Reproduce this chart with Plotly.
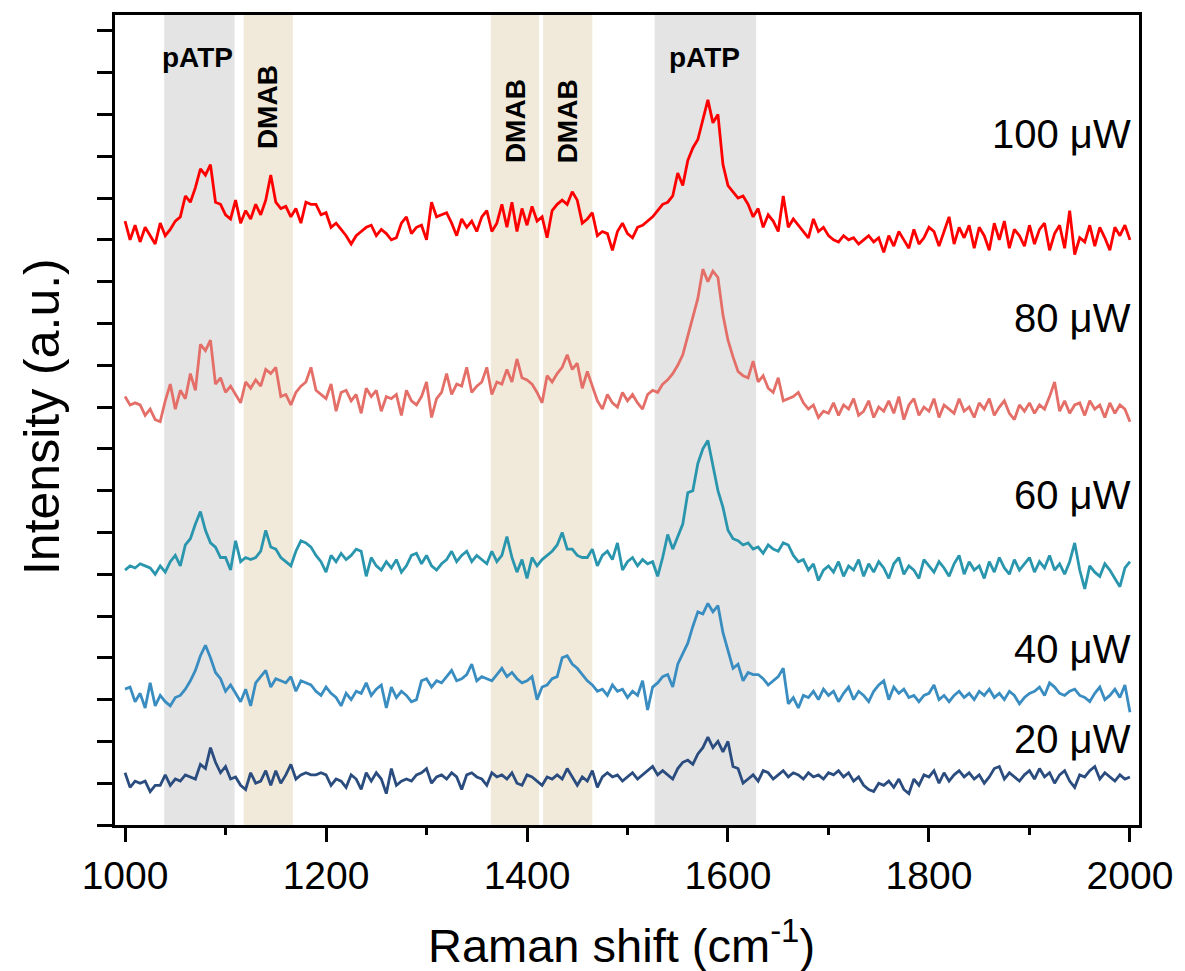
import numpy as np
import plotly.graph_objects as go

# Raman shift grid (cm-1), 5 cm-1 steps from 1000 to 2000
raman_shift = list(range(1000, 2001, 5))

int_100uW = [
    14.45, 14.0, 14.35, 13.95, 14.3, 14.1, 13.9, 14.4, 14.1, 14.25, 14.45, 14.55, 15.05, 14.9, 15.25, 15.7, 15.55, 15.8, 14.9, 14.85,
    14.6, 14.5, 14.95, 14.4, 14.7, 14.5, 14.85, 14.6, 14.95, 15.55, 14.9, 14.75, 14.8, 14.55, 14.75, 14.4, 14.9, 14.85, 14.85, 14.6,
    14.65, 14.3, 14.4, 14.25, 14.1, 13.9, 14.1, 14.2, 14.3, 14.35, 14.1, 14.25, 14.15, 14.0, 14.05, 14.4, 14.55, 14.15, 14.3, 14.35,
    14.0, 14.9, 14.55, 14.6, 14.65, 14.4, 14.1, 14.5, 14.3, 14.45, 14.2, 14.55, 14.7, 14.2, 14.4, 14.85, 14.3, 14.9, 14.2, 14.75,
    14.35, 14.8, 14.45, 14.55, 14.05, 14.7, 14.85, 14.95, 14.85, 15.15, 14.95, 14.4, 14.5, 14.65, 14.1, 14.2, 14.15, 13.75, 14.2, 14.4,
    14.15, 14.05, 14.3, 14.35, 14.45, 14.55, 14.7, 14.85, 14.9, 15.05, 15.6, 15.3, 15.9, 16.2, 16.4, 16.85, 17.35, 16.8, 17.0, 15.8,
    15.3, 15.15, 15.0, 15.05, 14.85, 14.55, 14.75, 14.3, 14.6, 14.45, 14.2, 15.05, 14.3, 14.5, 14.35, 14.2, 14.05, 14.5, 14.2, 14.3,
    14.1, 14.0, 13.95, 14.1, 14.0, 14.05, 13.9, 14.0, 14.1, 13.95, 14.05, 13.7, 14.1, 13.85, 14.2, 14.0, 13.8, 14.25, 13.9, 14.05,
    14.3, 14.2, 13.85, 14.2, 14.55, 13.9, 14.3, 14.05, 14.35, 13.8, 14.3, 14.1, 13.75, 14.4, 14.0, 14.45, 13.8, 14.25, 14.1, 13.85,
    14.35, 13.9, 14.25, 14.4, 13.75, 14.15, 14.35, 13.8, 14.7, 13.65, 14.05, 13.95, 14.35, 13.85, 14.3, 14.05, 13.75, 14.3, 14.1, 14.35,
    14.0,
]

int_80uW = [
    10.25, 10.05, 10.1, 10.05, 9.8, 9.95, 9.7, 9.65, 10.15, 10.55, 9.95, 10.4, 10.2, 10.8, 10.4, 11.5, 11.35, 11.6, 10.55, 10.7,
    10.35, 10.5, 10.3, 10.1, 10.6, 10.45, 10.65, 10.5, 10.9, 10.8, 10.95, 10.25, 10.3, 10.05, 10.35, 10.5, 10.6, 10.95, 10.4, 10.3,
    10.2, 10.55, 9.9, 10.35, 10.4, 10.15, 10.3, 9.85, 10.45, 10.25, 10.4, 9.9, 10.25, 10.2, 10.3, 9.8, 10.4, 10.15, 10.05, 10.25,
    10.6, 9.75, 10.2, 10.35, 10.8, 10.3, 10.55, 10.5, 10.95, 10.35, 10.5, 10.6, 10.95, 10.3, 10.6, 10.55, 10.9, 10.6, 11.15, 10.7,
    10.65, 10.55, 10.35, 10.1, 10.75, 10.6, 10.8, 10.95, 11.25, 10.9, 11.05, 10.45, 10.85, 10.5, 10.15, 9.95, 10.3, 10.1, 10.0, 10.35,
    10.15, 10.3, 10.1, 9.95, 10.3, 10.4, 10.35, 10.55, 10.65, 10.8, 11.0, 11.25, 11.7, 12.15, 12.6, 13.3, 13.0, 13.25, 13.1, 12.2,
    11.6, 11.2, 10.85, 10.75, 10.7, 11.1, 10.6, 10.75, 10.45, 10.35, 10.7, 10.15, 10.2, 10.25, 10.35, 10.1, 9.95, 10.05, 9.75, 9.9,
    9.85, 10.1, 9.8, 10.05, 9.95, 10.2, 9.8, 9.9, 10.15, 9.75, 10.0, 9.9, 10.15, 9.85, 10.25, 9.7, 10.05, 10.2, 9.8, 10.0,
    9.9, 10.2, 9.75, 10.05, 9.95, 9.85, 10.2, 9.9, 10.0, 9.75, 10.1, 9.95, 10.2, 9.8, 10.0, 10.15, 9.85, 9.7, 10.05, 9.9,
    10.1, 9.85, 10.05, 9.95, 10.25, 10.6, 9.9, 10.15, 9.85, 10.05, 10.1, 9.8, 10.15, 9.95, 10.05, 9.75, 10.1, 9.85, 10.05, 9.95,
    9.65,
]

int_60uW = [
    6.1, 6.2, 6.15, 6.25, 6.2, 6.15, 6.0, 6.2, 6.05, 6.3, 6.45, 6.2, 6.7, 6.85, 7.2, 7.5, 7.05, 6.75, 6.65, 6.4,
    6.4, 6.1, 6.8, 6.3, 6.4, 6.35, 6.4, 6.55, 7.05, 6.65, 6.6, 6.4, 6.3, 6.2, 6.55, 6.8, 6.75, 6.65, 6.45, 6.3,
    6.05, 6.45, 6.3, 6.5, 6.35, 6.45, 6.6, 6.55, 5.95, 6.4, 6.2, 6.1, 6.3, 6.15, 6.35, 6.05, 6.2, 6.45, 6.5, 6.25,
    6.45, 6.2, 6.1, 6.25, 6.35, 6.55, 6.3, 6.45, 6.55, 6.3, 6.45, 6.35, 6.25, 6.55, 6.3, 6.45, 6.9, 6.4, 6.05, 6.35,
    5.9, 6.4, 6.2, 6.35, 6.45, 6.55, 6.7, 7.0, 6.6, 6.6, 6.45, 6.4, 6.4, 6.6, 6.2, 6.45, 6.55, 6.35, 6.75, 6.1,
    6.3, 6.4, 6.2, 6.35, 6.25, 6.3, 5.95, 6.4, 6.95, 6.6, 6.9, 7.2, 7.95, 8.0, 8.65, 9.0, 9.2, 8.6, 8.0, 7.6,
    7.05, 6.85, 6.8, 6.7, 6.75, 6.6, 6.65, 6.5, 6.7, 6.6, 6.55, 6.75, 6.7, 6.45, 6.3, 6.35, 6.1, 6.25, 5.85, 6.1,
    6.2, 6.05, 6.3, 5.95, 6.2, 6.1, 6.35, 5.95, 6.25, 6.05, 6.3, 6.15, 5.9, 6.25, 6.4, 6.0, 6.2, 6.1, 5.9, 6.35,
    6.2, 6.05, 6.3, 6.15, 5.95, 6.25, 6.45, 6.0, 6.3, 6.1, 6.2, 5.9, 6.3, 6.05, 6.4, 6.15, 6.0, 6.35, 6.1, 6.25,
    6.4, 6.05, 6.3, 6.15, 6.45, 6.1, 6.25, 6.0, 6.3, 6.75, 6.1, 5.65, 6.2, 6.05, 5.95, 6.25, 6.1, 5.9, 5.7, 6.15,
    6.3,
]

int_40uW = [
    3.25, 3.3, 2.95, 3.15, 2.8, 3.4, 2.85, 3.1, 2.95, 2.85, 3.05, 3.1, 3.25, 3.45, 3.7, 4.05, 4.3, 4.0, 3.65, 3.5,
    3.2, 3.35, 3.15, 2.95, 3.25, 2.85, 3.4, 3.55, 3.7, 3.3, 3.5, 3.45, 3.4, 3.55, 3.2, 3.45, 3.4, 3.35, 3.2, 3.1,
    3.3, 3.15, 3.05, 2.85, 3.15, 3.0, 3.2, 3.15, 3.4, 3.1, 3.25, 3.35, 2.8, 3.3, 3.05, 3.2, 3.1, 2.95, 3.0, 3.45,
    3.5, 3.3, 3.45, 3.4, 3.55, 3.7, 3.45, 3.5, 3.6, 3.85, 3.45, 3.55, 3.5, 3.45, 3.6, 3.75, 3.55, 3.65, 3.5, 3.4,
    3.45, 3.55, 3.0, 3.3, 3.35, 3.5, 3.55, 4.0, 4.05, 3.85, 3.75, 3.6, 3.45, 3.35, 3.2, 3.25, 3.1, 3.35, 3.2, 3.25,
    3.05, 3.2, 3.1, 3.45, 2.75, 3.3, 3.4, 3.55, 3.6, 3.3, 3.85, 4.1, 4.35, 4.75, 5.1, 5.05, 5.3, 5.1, 5.25, 4.6,
    4.2, 3.75, 3.85, 3.45, 3.65, 3.6, 3.6, 3.5, 3.35, 3.45, 3.55, 3.75, 2.9, 3.05, 2.8, 3.1, 3.05, 3.2, 3.0, 3.25,
    3.1, 3.2, 2.95, 3.15, 3.3, 3.0, 3.2, 3.1, 2.95, 3.2, 3.35, 3.45, 3.0, 3.3, 3.15, 3.25, 3.05, 3.1, 2.95, 3.1,
    3.15, 3.35, 3.0, 3.1, 2.95, 3.1, 3.2, 3.05, 3.15, 3.0, 3.2, 3.1, 3.25, 3.05, 3.15, 3.0, 3.2, 3.1, 2.9, 3.05,
    3.15, 3.2, 3.3, 3.1, 3.4, 3.3, 3.15, 3.1, 3.2, 3.25, 3.1, 3.05, 2.95, 3.15, 3.3, 3.0, 3.1, 3.25, 3.05, 3.35,
    2.7,
]

int_20uW = [
    1.25, 0.9, 1.05, 1.0, 1.05, 0.8, 0.95, 0.95, 1.2, 0.95, 1.1, 1.05, 1.2, 1.15, 1.1, 1.45, 1.35, 1.85, 1.5, 1.25,
    1.4, 1.1, 1.15, 0.95, 0.85, 1.25, 1.0, 1.05, 1.3, 0.95, 1.3, 1.0, 1.2, 1.45, 1.1, 1.2, 1.25, 1.2, 1.2, 1.25,
    1.2, 0.95, 1.1, 1.05, 0.9, 1.2, 1.1, 0.85, 1.25, 1.05, 1.25, 1.1, 0.75, 1.35, 0.95, 1.05, 1.1, 1.05, 1.2, 1.25,
    1.35, 1.0, 1.15, 1.2, 1.1, 1.25, 1.15, 0.85, 1.2, 1.25, 1.15, 1.1, 0.95, 1.25, 1.15, 1.2, 1.1, 1.25, 1.0, 0.95,
    1.2, 1.15, 1.05, 0.95, 1.15, 1.1, 1.2, 1.1, 1.35, 1.15, 0.95, 1.15, 1.05, 1.3, 0.9, 1.15, 1.25, 1.15, 1.2, 1.05,
    1.15, 1.25, 1.1, 1.2, 1.3, 1.4, 1.2, 1.3, 1.2, 1.1, 1.35, 1.5, 1.55, 1.45, 1.7, 1.85, 2.1, 1.85, 2.0, 1.75,
    2.0, 1.4, 1.35, 1.0, 1.1, 1.2, 1.05, 1.3, 1.25, 1.1, 1.2, 1.3, 1.15, 1.25, 1.2, 1.1, 1.25, 1.15, 1.2, 1.1,
    1.25, 1.2, 1.3, 1.15, 1.25, 1.05, 1.15, 0.95, 0.85, 0.8, 1.0, 0.95, 1.05, 0.9, 1.1, 0.85, 0.75, 1.1, 0.95, 1.2,
    1.15, 1.3, 1.0, 1.25, 1.05, 1.2, 1.3, 1.15, 1.25, 1.1, 1.2, 1.0, 1.15, 1.35, 1.4, 1.1, 1.25, 1.15, 1.05, 1.2,
    1.3, 1.1, 1.35, 1.15, 1.25, 1.0, 1.2, 1.3, 1.05, 0.9, 1.2, 1.15, 1.3, 1.4, 1.1, 1.25, 1.15, 1.05, 1.2, 1.1,
    1.15,
]

series_names = ["20 μW", "40 μW", "60 μW", "80 μW", "100 μW"]
series_values = [int_20uW, int_40uW, int_60uW, int_80uW, int_100uW]
series_colors = ["#2B4C7E", "#3A8DC0", "#2A96AE", "#E46F68", "#FF0000"]
label_y = [2.06, 4.2, 7.9, 12.13, 16.53]

# shaded bands (cm-1)
band_ranges = [(1039, 1109), (1118, 1167), (1364, 1412), (1416, 1465), (1527, 1628)]
band_kinds = ["pATP", "DMAB", "DMAB", "DMAB", "pATP"]
band_label_x = [1072, 1142, 1388, 1440, 1577]
band_label_y = [18.37, 17.17, 16.84, 16.84, 18.37]
band_fill = {"pATP": "#E4E4E4", "DMAB": "#F1EADB"}

FONT = "Liberation Sans, Arial, sans-serif"

fig = go.Figure()

for (x0, x1), kind in zip(band_ranges, band_kinds):
    fig.add_shape(type="rect", xref="x", yref="paper", x0=x0, x1=x1, y0=0, y1=1,
                  fillcolor=band_fill[kind], line=dict(width=0), layer="below")

for name, vals, col in zip(series_names, series_values, series_colors):
    fig.add_trace(go.Scatter(x=raman_shift, y=vals, mode="lines", name=name,
                             line=dict(color=col, width=2.8), showlegend=False))

annotations = []
for kind, lx, ly in zip(band_kinds, band_label_x, band_label_y):
    annotations.append(dict(x=lx, y=ly, xref="x", yref="y", text="<b>%s</b>" % kind,
                            showarrow=False, textangle=0 if kind == "pATP" else -90,
                            font=dict(family=FONT, size=28, color="black"),
                            xanchor="center", yanchor="middle"))
for name, ly in zip(series_names, label_y):
    annotations.append(dict(x=2003, y=ly, xref="x", yref="y", text=name, showarrow=False,
                            font=dict(family=FONT, size=40, color="black"),
                            xanchor="right", yanchor="middle"))
annotations.append(dict(x=0.495, y=-0.144, xref="paper", yref="paper",
                        text="Raman shift (cm<sup>-1</sup>)", showarrow=False,
                        font=dict(family=FONT, size=47, color="black"),
                        xanchor="center", yanchor="middle"))
annotations.append(dict(x=-0.072, y=0.504, xref="paper", yref="paper",
                        text="Intensity (a.u.)", showarrow=False, textangle=-90,
                        font=dict(family=FONT, size=50, color="black"),
                        xanchor="center", yanchor="middle"))

fig.update_layout(
    width=1185, height=971,
    margin=dict(l=115, r=42, t=15, b=146),
    plot_bgcolor="white", paper_bgcolor="white",
    annotations=annotations,
    font=dict(family=FONT, color="black"),
)
fig.update_xaxes(range=[990, 2009], tickvals=[1000, 1200, 1400, 1600, 1800, 2000],
                 ticks="outside", ticklen=14, tickwidth=3, tickcolor="black",
                 tickfont=dict(family=FONT, size=39, color="black"),
                 showline=True, linewidth=3, linecolor="black", mirror=True,
                 showgrid=False, zeroline=False,
                 minor=dict(tickvals=[1100, 1300, 1500, 1700, 1900], ticks="outside",
                            ticklen=7, tickwidth=3, tickcolor="black", showgrid=False))
fig.update_yaxes(range=[0, 19.38], tick0=0, dtick=1, showticklabels=False,
                 ticks="outside", ticklen=15, tickwidth=3, tickcolor="black",
                 showline=True, linewidth=3, linecolor="black", mirror=True,
                 showgrid=False, zeroline=False)

fig.write_html("out.html")
